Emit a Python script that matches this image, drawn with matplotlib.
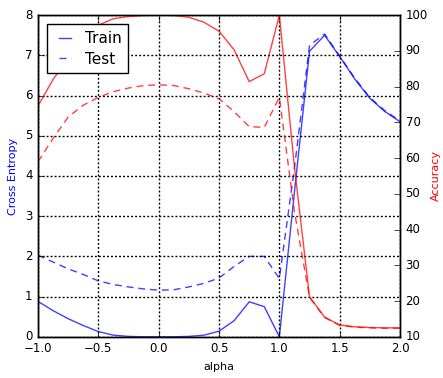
import matplotlib
matplotlib.use('Agg')
from matplotlib import pyplot as plt

plt.style.use('classic')

alpha = [-1.0, -0.875, -0.75, -0.625, -0.5, -0.375, -0.25, -0.125, 0.0,
         0.125, 0.25, 0.375, 0.5, 0.625, 0.75, 0.875, 1.0,
         1.125, 1.25, 1.375, 1.5, 1.625, 1.75, 1.875, 2.0]

# cross entropy (left axis)
train_ce = [0.88, 0.65, 0.45, 0.28, 0.13, 0.04, 0.01, 0.0, 0.0,
            0.0, 0.01, 0.04, 0.14, 0.40, 0.87, 0.75, 0.0,
            3.6, 7.1, 7.5, 6.97, 6.41, 5.93, 5.6, 5.35]
test_ce = [2.03, 1.86, 1.69, 1.55, 1.39, 1.30, 1.24, 1.19, 1.16,
           1.17, 1.24, 1.33, 1.46, 1.75, 2.0, 2.0, 1.45,
           4.2, 7.25, 7.53, 6.98, 6.43, 5.95, 5.62, 5.37]

# accuracy (right axis)
train_acc = [74.6, 82.0, 88.0, 93.0, 97.2, 99.0, 99.6, 99.9, 100.0,
             99.9, 99.4, 98.0, 95.5, 90.3, 81.4, 83.6, 100.0,
             57.5, 21.2, 15.5, 13.3, 12.8, 12.6, 12.5, 12.5]
test_acc = [59.0, 65.5, 71.5, 74.8, 77.0, 78.6, 79.6, 80.3, 80.5,
            80.3, 79.4, 78.2, 76.6, 73.0, 68.8, 68.6, 77.0,
            45.0, 21.0, 15.4, 13.2, 12.7, 12.5, 12.4, 12.4]

x_ticks = [-1.0, -0.5, 0.0, 0.5, 1.0, 1.5, 2.0]
ce_ticks = [0, 1, 2, 3, 4, 5, 6, 7, 8]
acc_ticks = [10, 20, 30, 40, 50, 60, 70, 80, 90, 100]

fig = plt.figure(figsize=(4.43, 3.78), dpi=100, facecolor='white')
ax1 = fig.add_axes([0.0858, 0.109, 0.8172, 0.851])
ax2 = ax1.twinx()

l1, = ax1.plot(alpha, train_ce, color='b', lw=1, alpha=0.75, label='Train')
l2, = ax1.plot(alpha, test_ce, color='b', lw=1, alpha=0.75, ls='--',
               dashes=(5, 3.5), label='Test')
ax2.plot(alpha, train_acc, color='r', lw=1, alpha=0.75)
ax2.plot(alpha, test_acc, color='r', lw=1, alpha=0.75, ls='--', dashes=(5, 3.5))

ax1.set_xlim(-1, 2)
ax1.set_ylim(0, 8)
ax2.set_ylim(10, 100)
ax1.set_xticks(x_ticks)
ax1.set_yticks(ce_ticks)
ax2.set_yticks(acc_ticks)

ax1.grid(True, color='k', linestyle=(0, (1.4, 1.5)), linewidth=1)
ax1.tick_params(labelsize=8.5, direction='in')
ax2.tick_params(labelsize=8.5, direction='in')

ax1.set_xlabel('alpha', fontsize=8)
ax1.set_ylabel('Cross Entropy', color='b', fontsize=8)
ax2.set_ylabel('Accuracy', color='r', fontsize=8, labelpad=2)

leg = ax2.legend([l1, l2], ['Train', 'Test'], loc='upper left', fontsize=11,
                 handlelength=1.4, fancybox=False, framealpha=1,
                 borderaxespad=0.6, labelspacing=0.35, handletextpad=0.6,
                 borderpad=0.45)
leg.get_frame().set_edgecolor('k')

plt.savefig('out.png', dpi=100, facecolor='white')
